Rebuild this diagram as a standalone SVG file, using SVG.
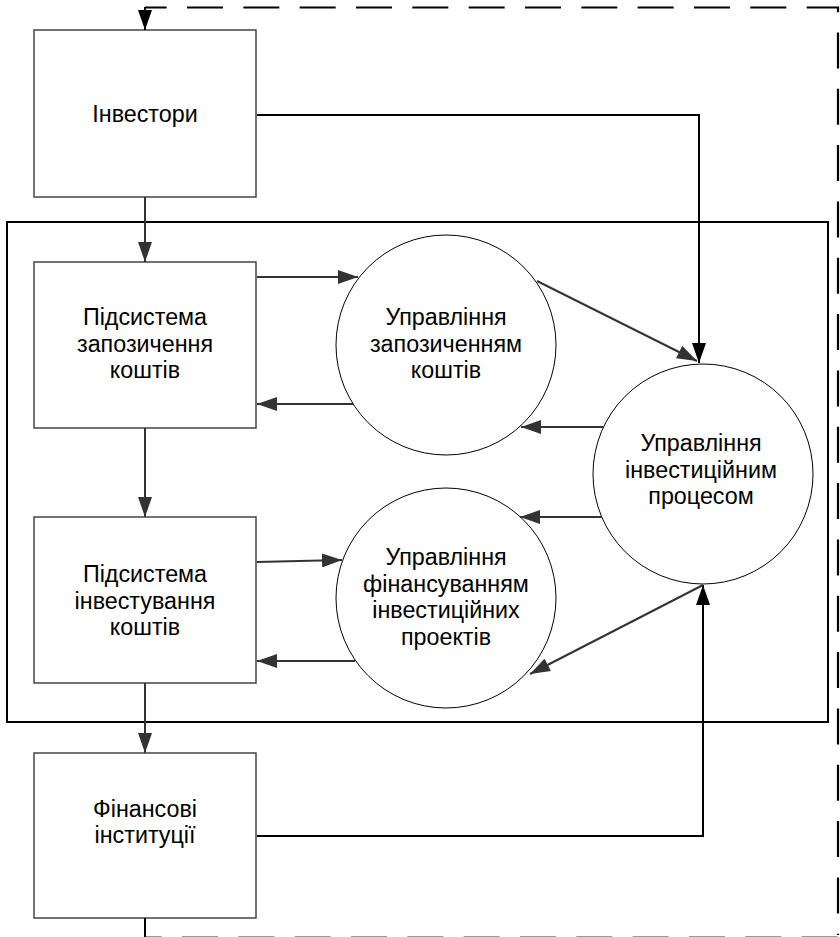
<svg xmlns="http://www.w3.org/2000/svg" width="840" height="937" viewBox="0 0 840 937">
<style>
.box{fill:#fff;stroke:#444;stroke-width:1.5}
.circ{fill:#fff;stroke:#000;stroke-width:1}
.frame{fill:none;stroke:#000;stroke-width:2}
.t{font-family:"Liberation Sans",Arial,sans-serif;font-size:23.3px;fill:#000;text-anchor:middle}
.c{fill:none;stroke:#333;stroke-width:2}
.k{fill:none;stroke:#000;stroke-width:2}
.dash{fill:none;stroke:#000;stroke-width:2.2;stroke-dasharray:36 20.33;stroke-dashoffset:14.33}
</style>
<defs>
<marker id="ag" viewBox="0 0 20 14" refX="20" refY="7" markerWidth="20" markerHeight="14" markerUnits="userSpaceOnUse" orient="auto">
<path d="M0,0 L20,7 L0,14 Z" fill="#333"/>
</marker>
<marker id="ak" viewBox="0 0 20 14" refX="20" refY="7" markerWidth="20" markerHeight="14" markerUnits="userSpaceOnUse" orient="auto">
<path d="M0,0 L20,7 L0,14 Z" fill="#000"/>
</marker>
</defs>
<rect class="frame" x="7" y="222" width="821" height="500"/>
<g id="investors">
<rect class="box" x="34" y="30" width="222" height="167"/>
<text class="t" x="145" y="122">Інвестори</text>
</g>
<g id="borrowing">
<rect class="box" x="34" y="262" width="222" height="166"/>
<text class="t" x="145" y="325">Підсистема</text>
<text class="t" x="145" y="351.5">запозичення</text>
<text class="t" x="145" y="378">коштів</text>
</g>
<g id="investing">
<rect class="box" x="34" y="517" width="222" height="166"/>
<text class="t" x="145" y="582">Підсистема</text>
<text class="t" x="145" y="608.5">інвестування</text>
<text class="t" x="145" y="635">коштів</text>
</g>
<g id="institutions">
<rect class="box" x="34" y="753" width="222" height="165"/>
<text class="t" x="145" y="817">Фінансові</text>
<text class="t" x="145" y="843">інституції</text>
</g>
<g id="mgmt-borrowing">
<circle class="circ" cx="446" cy="345" r="110"/>
<text class="t" x="446" y="325">Управління</text>
<text class="t" x="446" y="351.5">запозиченням</text>
<text class="t" x="446" y="378">коштів</text>
</g>
<g id="mgmt-financing">
<circle class="circ" cx="446" cy="598" r="110"/>
<text class="t" x="446" y="565">Управління</text>
<text class="t" x="446" y="591.5">фінансуванням</text>
<text class="t" x="446" y="618">інвестиційних</text>
<text class="t" x="446" y="644.5">проектів</text>
</g>
<g id="mgmt-process">
<circle class="circ" cx="703" cy="474" r="110"/>
<text class="t" x="701" y="451">Управління</text>
<text class="t" x="701" y="477.5">інвестиційним</text>
<text class="t" x="701" y="504">процесом</text>
</g>
<g id="connectors">
<path class="dash" d="M145,7.5 H838 V935"/>
<path d="M145,936.5 H838" fill="none" stroke="#999" stroke-width="1" stroke-dasharray="36 20.33" stroke-dashoffset="19.33"/>
<path class="k" stroke-width="2.5" d="M145,7 V30" marker-end="url(#ak)"/>
<path class="k" stroke-width="3" d="M145,918 V937"/>
<path class="k" d="M257,115 H699 V363" marker-end="url(#ak)"/>
<path class="k" d="M257,836 H703 V585" marker-end="url(#ak)"/>
<path class="c" d="M145,197 V262" marker-end="url(#ag)"/>
<path class="c" d="M145,428 V517" marker-end="url(#ag)"/>
<path class="c" d="M145,683 V753" marker-end="url(#ag)"/>
<path class="c" d="M257,277 H358" marker-end="url(#ag)"/>
<path class="c" d="M353,404 H257" marker-end="url(#ag)"/>
<path class="c" d="M537,281 L697,361" marker-end="url(#ag)"/>
<path class="c" d="M603,427 H521" marker-end="url(#ag)"/>
<path class="c" d="M602,517 H520" marker-end="url(#ag)"/>
<path class="c" d="M257,562 L342,560" marker-end="url(#ag)"/>
<path class="c" d="M355,661 H257" marker-end="url(#ag)"/>
<path class="c" d="M703,585 L530,674" marker-end="url(#ag)"/>
</g>
</svg>
